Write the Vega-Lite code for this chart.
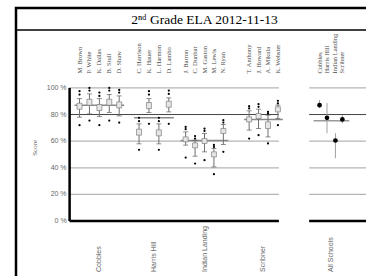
{
  "$schema": "https://vega.github.io/schema/vega-lite/v6.json",
  "autosize": "none",
  "padding": {"left": 16, "top": 8, "right": 0, "bottom": 0},
  "width": 377,
  "height": 273,
  "background": "white",
  "config": {"view": {"stroke": "black", "strokeWidth": 2.5}, "axis": {"disable": true}},
  "datasets": {
    "teachers": [
      {"school": "Cobbles", "teacher": "M. Brown", "slot": 0, "lo": 0.78, "b0": 0.84, "b1": 0.885, "hi": 0.92, "low": 0.72, "top1": 0.95, "top2": 0.975},
      {"school": "Cobbles", "teacher": "P. White", "slot": 1, "lo": 0.805, "b0": 0.87, "b1": 0.915, "hi": 0.955, "low": 0.755, "top1": 0.98, "top2": 1.0},
      {"school": "Cobbles", "teacher": "K. Dallas", "slot": 2, "lo": 0.785, "b0": 0.83, "b1": 0.875, "hi": 0.92, "low": 0.72, "top1": 0.94, "top2": 0.965},
      {"school": "Cobbles", "teacher": "B. Stull", "slot": 3, "lo": 0.815, "b0": 0.87, "b1": 0.915, "hi": 0.95, "low": 0.755, "top1": 0.98, "top2": 1.0},
      {"school": "Cobbles", "teacher": "D. Shaw", "slot": 4, "lo": 0.79, "b0": 0.85, "b1": 0.895, "hi": 0.94, "low": 0.74, "top1": 0.965, "top2": 0.985},
      {"school": "Harris Hill", "teacher": "C. Harrison", "slot": 6, "lo": 0.58, "b0": 0.645, "b1": 0.69, "hi": 0.73, "low": 0.535, "top1": 0.75, "top2": 0.775},
      {"school": "Harris Hill", "teacher": "K. Hauer", "slot": 7, "lo": 0.815, "b0": 0.845, "b1": 0.89, "hi": 0.92, "low": 0.73, "top1": 0.95, "top2": 0.975},
      {"school": "Harris Hill", "teacher": "L. Harmon", "slot": 8, "lo": 0.58, "b0": 0.64, "b1": 0.685, "hi": 0.73, "low": 0.535, "top1": 0.75, "top2": 0.775},
      {"school": "Harris Hill", "teacher": "D. Lambo", "slot": 9, "lo": 0.82, "b0": 0.855, "b1": 0.9, "hi": 0.925, "low": 0.73, "top1": 0.955, "top2": 0.98},
      {"school": "Indian Landing", "teacher": "J. Barron", "slot": 10.7, "lo": 0.57, "b0": 0.595, "b1": 0.632, "hi": 0.67, "low": 0.477, "top1": 0.69, "top2": 0.707},
      {"school": "Indian Landing", "teacher": "C. Dunbar", "slot": 11.65, "lo": 0.487, "b0": 0.55, "b1": 0.587, "hi": 0.607, "low": 0.432, "top1": 0.62, "top2": 0.638},
      {"school": "Indian Landing", "teacher": "M. Gaston", "slot": 12.6, "lo": 0.52, "b0": 0.583, "b1": 0.62, "hi": 0.658, "low": 0.457, "top1": 0.677, "top2": 0.695},
      {"school": "Indian Landing", "teacher": "M. Lewis", "slot": 13.55, "lo": 0.407, "b0": 0.482, "b1": 0.52, "hi": 0.545, "low": 0.352, "top1": 0.557, "top2": 0.572},
      {"school": "Indian Landing", "teacher": "N. Ryan", "slot": 14.5, "lo": 0.575, "b0": 0.658, "b1": 0.695, "hi": 0.725, "low": 0.52, "top1": 0.74, "top2": 0.758},
      {"school": "Scribner", "teacher": "T. Anthony", "slot": 17.1, "lo": 0.683, "b0": 0.745, "b1": 0.783, "hi": 0.828, "low": 0.62, "top1": 0.846, "top2": 0.863},
      {"school": "Scribner", "teacher": "J. Howard", "slot": 18.05, "lo": 0.695, "b0": 0.77, "b1": 0.808, "hi": 0.84, "low": 0.645, "top1": 0.858, "top2": 0.878},
      {"school": "Scribner", "teacher": "A. Mikula", "slot": 19, "lo": 0.632, "b0": 0.695, "b1": 0.745, "hi": 0.795, "low": 0.583, "top1": 0.808, "top2": 0.82},
      {"school": "Scribner", "teacher": "K. Webster", "slot": 20, "lo": 0.77, "b0": 0.82, "b1": 0.858, "hi": 0.87, "low": 0.72, "top1": 0.883, "top2": 0.903}
    ],
    "schools": [
      {"school": "Cobbles", "slot": 24.2, "mean": 0.87, "lo": 0.848, "hi": 0.908},
      {"school": "Harris Hill", "slot": 24.95, "mean": 0.775, "lo": 0.66, "hi": 0.886},
      {"school": "Indian Landing", "slot": 25.8, "mean": 0.605, "lo": 0.472, "hi": 0.66},
      {"school": "Scribner", "slot": 26.5, "mean": 0.763, "lo": 0.735, "hi": 0.795}
    ],
    "ticks": [
      {"v": 0, "label": "0 %"},
      {"v": 0.2, "label": "20 %"},
      {"v": 0.4, "label": "40 %"},
      {"v": 0.6, "label": "60 %"},
      {"v": 0.8, "label": "80 %"},
      {"v": 1, "label": "100 %"}
    ],
    "titles": [{"title": "2ⁿᵈ Grade ELA 2012-11-13", "ytitle": "Score"}]
  },
  "layer": [
    {
      "data": {"name": "ticks"},
      "transform": [{"filter": "datum.v == 0.2 || datum.v == 0.4 || datum.v == 0.6 || datum.v == 1"}],
      "mark": {"type": "rule", "color": "#b5b5b5", "strokeWidth": 1.3},
      "encoding": {
        "x": {"datum": -1, "type": "quantitative", "scale": {"domain": [-5.9, 31.1], "nice": false, "zero": false}},
        "x2": {"datum": 20.1},
        "y": {"field": "v", "type": "quantitative", "scale": {"domain": [-0.45, 1.6], "nice": false, "zero": false}}
      }
    },
    {
      "data": {"name": "ticks"},
      "transform": [{"filter": "datum.v == 0.2 || datum.v == 0.4 || datum.v == 0.6 || datum.v == 1"}],
      "mark": {"type": "rule", "color": "#b5b5b5", "strokeWidth": 1.3},
      "encoding": {
        "x": {"datum": 23.15, "type": "quantitative"},
        "x2": {"datum": 31.1},
        "y": {"field": "v", "type": "quantitative"}
      }
    },
    {
      "data": {"name": "ticks"},
      "transform": [{"filter": "datum.v == 0.8"}],
      "mark": {"type": "rule", "color": "#444444", "strokeWidth": 1},
      "encoding": {
        "x": {"datum": -1, "type": "quantitative"},
        "x2": {"datum": 20.1},
        "y": {"field": "v", "type": "quantitative"}
      }
    },
    {
      "data": {"name": "ticks"},
      "transform": [{"filter": "datum.v == 0.8"}],
      "mark": {"type": "rule", "color": "#444444", "strokeWidth": 1},
      "encoding": {
        "x": {"datum": 23.15, "type": "quantitative"},
        "x2": {"datum": 31.1},
        "y": {"field": "v", "type": "quantitative"}
      }
    },
    {
      "data": {"name": "ticks"},
      "transform": [{"filter": "datum.v == 0"}],
      "mark": {"type": "rule", "color": "black", "strokeWidth": 2.5},
      "encoding": {
        "x": {"datum": -1, "type": "quantitative"},
        "x2": {"datum": 20.1},
        "y": {"field": "v", "type": "quantitative"}
      }
    },
    {
      "data": {"name": "ticks"},
      "transform": [{"filter": "datum.v == 0"}],
      "mark": {"type": "rule", "color": "black", "strokeWidth": 2.5},
      "encoding": {
        "x": {"datum": 23.15, "type": "quantitative"},
        "x2": {"datum": 31.1},
        "y": {"field": "v", "type": "quantitative"}
      }
    },
    {
      "data": {"name": "ticks"},
      "transform": [{"filter": "datum.v == 0"}],
      "mark": {"type": "rule", "color": "black", "strokeWidth": 2.5},
      "encoding": {
        "x": {"datum": -1, "type": "quantitative"},
        "y": {"field": "v", "type": "quantitative"},
        "y2": {"datum": 1}
      }
    },
    {
      "data": {"name": "teachers"},
      "transform": [
        {"aggregate": [{"op": "min", "field": "slot", "as": "s0"}, {"op": "max", "field": "slot", "as": "s1"}], "groupby": ["school"]},
        {"lookup": "school", "from": {"data": {"name": "schools"}, "key": "school", "fields": ["mean"]}}
      ],
      "mark": {"type": "rule", "color": "#8a8a8a", "strokeWidth": 1.5, "xOffset": -5, "x2Offset": 5},
      "encoding": {
        "x": {"field": "s0", "type": "quantitative"},
        "x2": {"field": "s1"},
        "y": {"field": "mean", "type": "quantitative"}
      }
    },
    {
      "data": {"name": "schools"},
      "transform": [
        {"aggregate": [{"op": "min", "field": "slot", "as": "s0"}, {"op": "max", "field": "slot", "as": "s1"}, {"op": "mean", "field": "mean", "as": "m"}]}
      ],
      "mark": {"type": "rule", "color": "#9a9a9a", "strokeWidth": 1.5, "xOffset": -6, "x2Offset": 7},
      "encoding": {
        "x": {"field": "s0", "type": "quantitative"},
        "x2": {"field": "s1"},
        "y": {"field": "m", "type": "quantitative"}
      }
    },
    {
      "data": {"name": "teachers"},
      "mark": {"type": "rule", "color": "#707070", "strokeWidth": 1},
      "encoding": {
        "x": {"field": "slot", "type": "quantitative"},
        "y": {"field": "lo", "type": "quantitative"},
        "y2": {"field": "hi"}
      }
    },
    {
      "data": {"name": "teachers"},
      "mark": {"type": "bar", "width": 5, "fill": "#e6e6e6", "stroke": "#808080", "strokeWidth": 0.7},
      "encoding": {
        "x": {"field": "slot", "type": "quantitative"},
        "y": {"field": "b0", "type": "quantitative"},
        "y2": {"field": "b1"}
      }
    },
    {
      "data": {"name": "teachers"},
      "transform": [{"fold": ["lo", "hi"], "as": ["end", "val"]}],
      "mark": {"type": "tick", "orient": "horizontal", "size": 5, "thickness": 1, "color": "#606060"},
      "encoding": {
        "x": {"field": "slot", "type": "quantitative"},
        "y": {"field": "val", "type": "quantitative"}
      }
    },
    {
      "data": {"name": "teachers"},
      "transform": [{"fold": ["low", "top1", "top2"], "as": ["kind", "val"]}],
      "mark": {"type": "point", "filled": true, "color": "black", "size": 5, "opacity": 1},
      "encoding": {
        "x": {"field": "slot", "type": "quantitative"},
        "y": {"field": "val", "type": "quantitative"}
      }
    },
    {
      "data": {"name": "schools"},
      "mark": {"type": "rule", "color": "#a0a0a0", "strokeWidth": 1},
      "encoding": {
        "x": {"field": "slot", "type": "quantitative"},
        "y": {"field": "lo", "type": "quantitative"},
        "y2": {"field": "hi"}
      }
    },
    {
      "data": {"name": "schools"},
      "mark": {"type": "point", "filled": true, "color": "black", "size": 22, "opacity": 1},
      "encoding": {
        "x": {"field": "slot", "type": "quantitative"},
        "y": {"field": "mean", "type": "quantitative"}
      }
    },
    {
      "data": {"name": "teachers"},
      "mark": {"type": "text", "angle": 270, "align": "left", "baseline": "middle", "font": "Liberation Serif", "fontSize": 6.5, "color": "#4a4a4a"},
      "encoding": {
        "x": {"field": "slot", "type": "quantitative"},
        "y": {"datum": 1.108, "type": "quantitative"},
        "text": {"field": "teacher"}
      }
    },
    {
      "data": {"name": "schools"},
      "mark": {"type": "text", "angle": 270, "align": "left", "baseline": "middle", "font": "Liberation Serif", "fontSize": 6.5, "color": "#4a4a4a"},
      "encoding": {
        "x": {"field": "slot", "type": "quantitative"},
        "y": {"datum": 1.108, "type": "quantitative"},
        "text": {"field": "school"}
      }
    },
    {
      "data": {"name": "teachers"},
      "transform": [{"aggregate": [{"op": "mean", "field": "slot", "as": "c"}], "groupby": ["school"]}],
      "mark": {"type": "text", "angle": 270, "align": "left", "baseline": "middle", "font": "Liberation Sans", "fontSize": 7, "color": "#666666"},
      "encoding": {
        "x": {"field": "c", "type": "quantitative"},
        "y": {"datum": -0.382, "type": "quantitative"},
        "text": {"field": "school"}
      }
    },
    {
      "data": {"name": "schools"},
      "transform": [{"aggregate": [{"op": "mean", "field": "slot", "as": "c"}]}],
      "mark": {"type": "text", "angle": 270, "align": "left", "baseline": "middle", "font": "Liberation Sans", "fontSize": 7, "color": "#666666", "text": "All Schools"},
      "encoding": {
        "x": {"field": "c", "type": "quantitative"},
        "y": {"datum": -0.382, "type": "quantitative"}
      }
    },
    {
      "data": {"name": "ticks"},
      "mark": {"type": "text", "align": "right", "baseline": "middle", "dx": -3, "font": "Liberation Sans", "fontSize": 7, "color": "#666666"},
      "encoding": {
        "x": {"datum": -1, "type": "quantitative"},
        "y": {"field": "v", "type": "quantitative"},
        "text": {"field": "label"}
      }
    },
    {
      "data": {"name": "titles"},
      "mark": {"type": "text", "angle": 270, "align": "center", "baseline": "middle", "font": "Liberation Serif", "fontSize": 7, "color": "#666666"},
      "encoding": {
        "x": {"datum": -4.45, "type": "quantitative"},
        "y": {"datum": 0.55, "type": "quantitative"},
        "text": {"field": "ytitle"}
      }
    },
    {
      "data": {"name": "titles"},
      "mark": {"type": "text", "align": "center", "baseline": "middle", "font": "Liberation Serif", "fontSize": 13.5, "color": "black"},
      "encoding": {
        "y": {"datum": 1.513, "type": "quantitative"},
        "text": {"field": "title"}
      }
    },
    {
      "data": {"name": "titles"},
      "mark": {"type": "rule", "color": "black", "strokeWidth": 1.5},
      "encoding": {
        "y": {"datum": 1.435, "type": "quantitative"}
      }
    }
  ]
}
